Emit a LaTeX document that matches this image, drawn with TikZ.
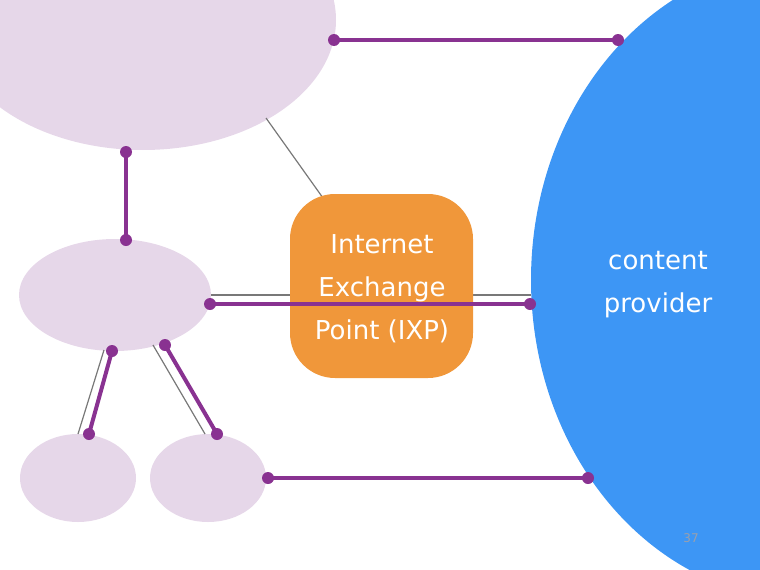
\documentclass[tikz,border=0pt]{standalone}
\usepackage{fontspec}
\setmainfont{DejaVu Sans}
\usepackage{tikz}
\usetikzlibrary{shapes,positioning,calc}
\usepackage{xcolor}
\definecolor{ispfill}{RGB}{230,215,233}
\definecolor{cpblue}{RGB}{61,150,245}
\definecolor{linkpurple}{RGB}{137,50,145}
\definecolor{ixporange}{RGB}{240,151,58}
\definecolor{numgray}{RGB}{155,160,172}

\begin{document}
\begin{tikzpicture}[x=1pt, y=-1pt,
    isp/.style={ellipse, fill=ispfill, inner sep=0pt},
    provider/.style={ellipse, fill=cpblue, inner sep=0pt, minimum width=550pt, minimum height=640pt},
    exchange/.style={rectangle, rounded corners=45pt, fill=ixporange, minimum width=183pt, minimum height=184pt},
    phys/.style={draw={rgb,255:red,120;green,120;blue,120}, line width=1.2pt},
    peer/.style={draw=linkpurple, line width=4pt},
    dot/.style={circle, fill=linkpurple, inner sep=0pt, minimum size=12pt},
    whitetext/.style={text=white, font=\fontsize{26}{43}\selectfont, align=center}
]
    \useasboundingbox (0,0) rectangle (760,570);
    \clip (0,0) rectangle (760,570);

    % ISPs
    \node[isp, minimum width=386pt, minimum height=260pt] (top) at (143,20) {};
    \node[isp, minimum width=192pt, minimum height=112pt] (mid) at (115,295) {};
    \node[isp, minimum width=116pt, minimum height=88pt] (lowleft) at (78,478) {};
    \node[isp, minimum width=116pt, minimum height=88pt] (lowright) at (208,478) {};

    % Content provider
    \node[provider] (cp) at (806,280) {};

    % Physical links (behind the IXP)
    \coordinate (g1) at (266,118);
    \coordinate (g2) at (323,198);
    \coordinate (g5) at (104,350);
    \coordinate (g6) at (78,434);
    \coordinate (g7) at (153,345);
    \coordinate (g8) at (205,434);
    \draw[phys] (g1) -- (g2);
    \draw[phys] (mid.east) -- (mid.east -| cp.west);
    \draw[phys] (g5) -- (g6);
    \draw[phys] (g7) -- (g8);

    % IXP
    \node[exchange] (ixp) at (381.5,286) {};

    % Peering links
    \foreach \n/\x/\y in {t1/334/40, c1/618/40, t2/126/152, m1/126/240,
                          m2/210/304, c2/530/304, m3/112/351, l1/89/434,
                          m4/165/345, r1/217/434, r2/268/478, c3/588/478} {
        \node[dot] (\n) at (\x,\y) {};
    }
    \foreach \a/\b in {t1/c1, t2/m1, m2/c2, m3/l1, m4/r1, r2/c3} {
        \draw[peer] (\a.center) -- (\b.center);
    }

    % Labels
    \node[whitetext] (ixptext) at (382,289) {Internet\\Exchange\\Point (IXP)};
    \node[whitetext] (cptext) at (658,285) {content\\provider};
    \node[text=numgray, font=\fontsize{12}{14}\selectfont] (pagenum) at (691,538) {37};
\end{tikzpicture}
\end{document}
